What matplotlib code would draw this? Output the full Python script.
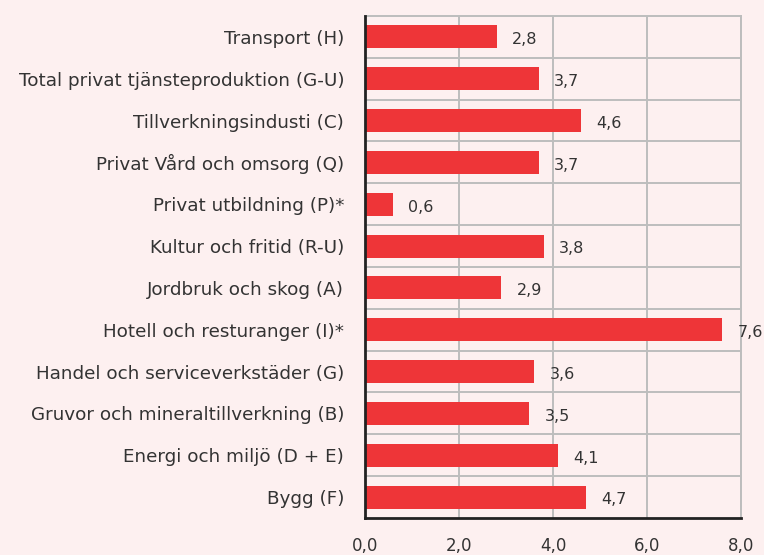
import numpy as np
from matplotlib import pyplot as plt

categories = [
    "Transport (H)",
    "Total privat tjänsteproduktion (G-U)",
    "Tillverkningsindusti (C)",
    "Privat Vård och omsorg (Q)",
    "Privat utbildning (P)*",
    "Kultur och fritid (R-U)",
    "Jordbruk och skog (A)",
    "Hotell och resturanger (I)*",
    "Handel och serviceverkstäder (G)",
    "Gruvor och mineraltillverkning (B)",
    "Energi och miljö (D + E)",
    "Bygg (F)",
]
values = [2.8, 3.7, 4.6, 3.7, 0.6, 3.8, 2.9, 7.6, 3.6, 3.5, 4.1, 4.7]
xticks = [0, 2, 4, 6, 8]

bg = "#fdf0f0"
red = "#ee3538"
txt = "#333333"
grid = "#bdbdbd"

plt.rcParams['font.family'] = ['DejaVu Sans']

fig = plt.figure(figsize=(7.64, 5.55), dpi=100, facecolor=bg)
ax = fig.add_axes([0.4777, 0.0667, 0.4921, 0.9045])
ax.set_facecolor(bg)

y = np.arange(len(categories))
ax.barh(y, values, height=0.55, color=red, zorder=3)

for yi, v in zip(y, values):
    ax.annotate(f"{v:.1f}".replace(".", ","), (v, yi), xytext=(11, -2),
                textcoords="offset points", ha="left", va="center",
                fontsize=11.5, color=txt)

ax.set_xlim(0, 8)
ax.set_ylim(len(categories) - 0.5, -0.5)
ax.set_xticks(xticks)
ax.set_xticklabels([f"{t:.1f}".replace(".", ",") for t in xticks])
ax.set_yticks(y)
ax.set_yticklabels(categories, fontsize=13.2)
ax.tick_params(axis="both", length=0, labelcolor=txt)
ax.tick_params(axis="x", pad=14, labelsize=12)
ax.tick_params(axis="y", pad=15)

# vertical grid at ticks, horizontal lines between categories
for t in xticks[1:]:
    ax.axvline(t, color=grid, lw=1.4, zorder=1)
for b in np.arange(0.5, len(categories) - 1, 1):
    ax.axhline(b, color=grid, lw=1.4, zorder=1)

for s in ["top", "right"]:
    ax.spines[s].set_color(grid)
    ax.spines[s].set_linewidth(1.4)
for s in ["left", "bottom"]:
    ax.spines[s].set_color("#222222")
    ax.spines[s].set_linewidth(2)
    ax.spines[s].set_zorder(4)

fig.savefig("out.png", dpi=100, facecolor=bg)
